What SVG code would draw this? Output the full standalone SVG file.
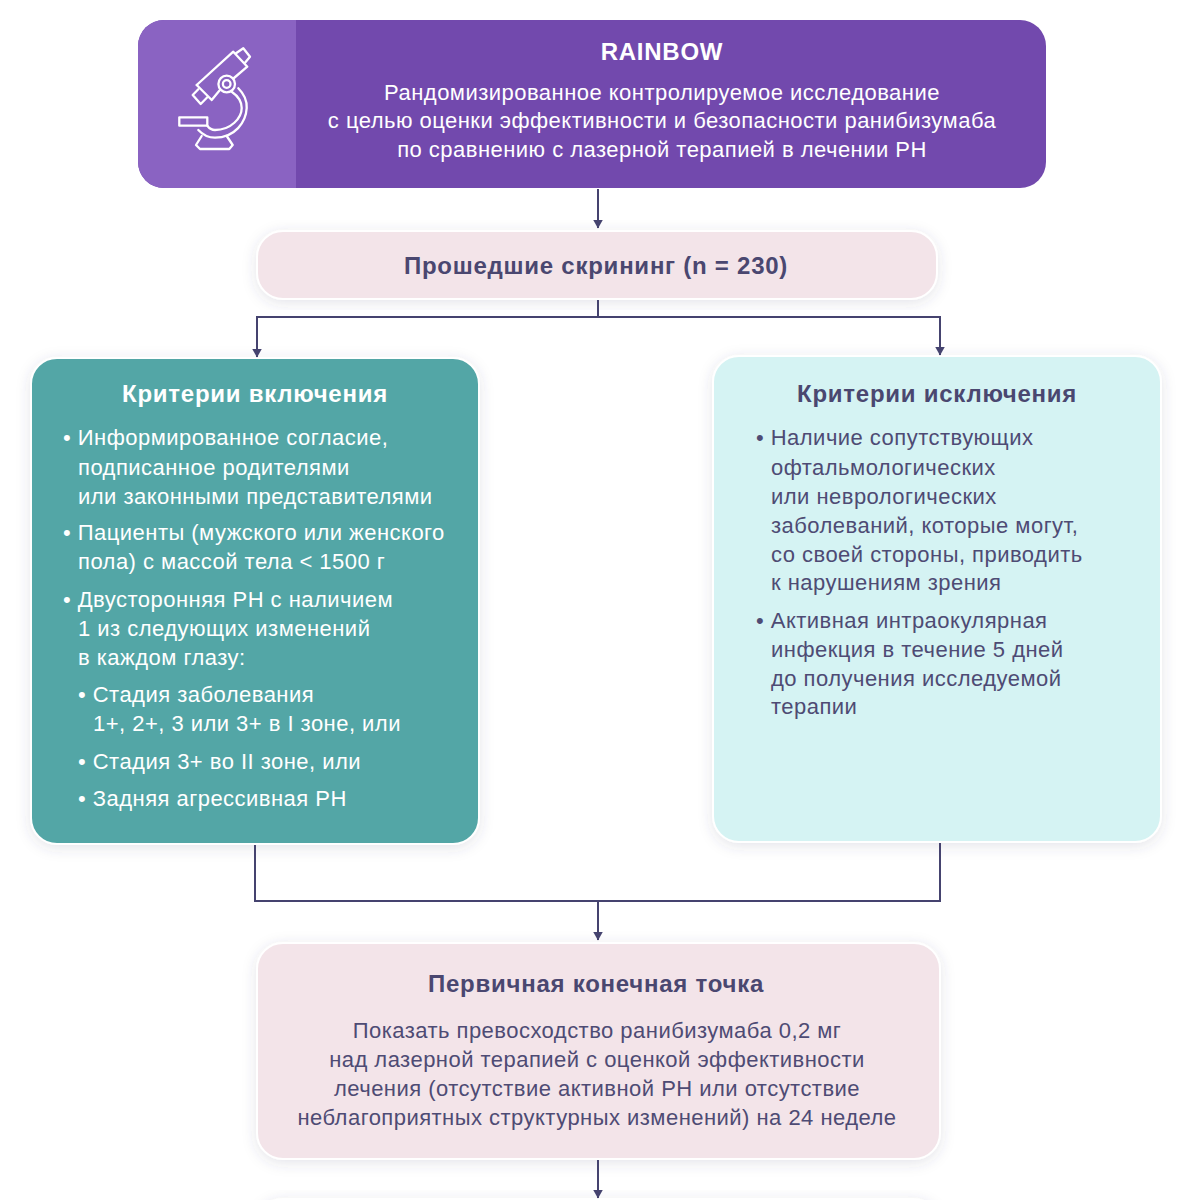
<svg xmlns="http://www.w3.org/2000/svg" width="1192" height="1200" viewBox="0 0 1192 1200">
<defs>
<filter id="sh" x="-10%" y="-15%" width="120%" height="130%"><feDropShadow dx="0" dy="3" stdDeviation="7" flood-color="#3d3a6b" flood-opacity="0.14"/></filter>
<marker id="arr" markerUnits="userSpaceOnUse" markerWidth="9" markerHeight="10" refX="8.500" refY="5" orient="auto" viewBox="0 0 9 10"><path d="M0 0L9 5L0 10Z" fill="#45436f"/></marker>
<clipPath id="hc"><rect x="138" y="20" width="908" height="168" rx="26"/></clipPath>
</defs>
<style>
text{font-family:"Liberation Sans",Arial,sans-serif;font-size:22px;fill:#4e4b74;letter-spacing:.47px}
.c{text-anchor:middle}
.b{font-weight:700;font-size:24px;letter-spacing:.75px}
.w{fill:#fff}
.d{fill:#4a4770}
.box{stroke:#fff;stroke-width:2;filter:url(#sh)}
.ln{fill:none;stroke:#45436f;stroke-width:2}
.ic{fill:none;stroke:#fff;stroke-width:2.300;stroke-linejoin:round;stroke-linecap:round}
</style>
<g id="next-node"><rect class="box" x="257" y="1199" width="682" height="60" rx="26" fill="#f3e4e9"/></g>
<g id="header">
<rect x="138" y="20" width="908" height="168" rx="26" fill="#7249ad"/>
<rect x="138" y="20" width="158" height="168" fill="#8a63c2" clip-path="url(#hc)"/>
<g class="ic">
<path d="M196.700 85L233.300 51.700L247.300 66.700L234 78"/>
<path d="M219.500 90.500L211.700 100L196.700 85"/>
<path d="M236 53.300L243.300 48.300L250 56.700L245 62.700"/>
<path d="M198.300 89.300L192.700 95L200.700 104L207.300 97.300"/>
<circle cx="226.700" cy="84" r="8.300"/><circle cx="226.700" cy="84" r="3.800"/>
<path d="M238.300 88.300C245 95 247 102 246.700 108C246 122 235 137.700 215 137.700C208 137.700 203 135 198.300 130"/>
<path d="M231.700 91.700C238 96 241.700 102 241.700 108C241.700 118 231 130 215 130C212 130 209 128 207.300 125.700"/>
<path d="M179.300 117.300H207.300V125.700H179.300Z"/>
<path d="M201.700 136L196 145L200 149H229.300L232.700 145L226.700 136"/>
</g>
<text class="c w b" x="662" y="60">RAINBOW</text>
<text class="c w" x="662" y="100">Рандомизированное контролируемое исследование</text>
<text class="c w" x="662" y="128">с целью оценки эффективности и безопасности ранибизумаба</text>
<text class="c w" x="662" y="157">по сравнению с лазерной терапией в лечении РН</text>
</g>
<g id="screening">
<rect class="box" x="257" y="231" width="680" height="68" rx="26" fill="#f3e4e9"/>
<text class="c b d" x="596" y="274">Прошедшие скрининг (n = 230)</text>
</g>
<g id="inclusion">
<rect class="box" x="31" y="358" width="448" height="486" rx="26" fill="#53a6a6"/>
<text class="c b w" x="255" y="402">Критерии включения</text>
<text class="w" x="63" y="445">• Информированное согласие,</text>
<text class="w" x="78" y="475">подписанное родителями</text>
<text class="w" x="78" y="504">или законными представителями</text>
<text class="w" x="63" y="540">• Пациенты (мужского или женского</text>
<text class="w" x="78" y="569">пола) с массой тела &lt; 1500 г</text>
<text class="w" x="63" y="607">• Двусторонняя РН с наличием</text>
<text class="w" x="78" y="636">1 из следующих изменений</text>
<text class="w" x="78" y="665">в каждом глазу:</text>
<text class="w" x="78" y="702">• Стадия заболевания</text>
<text class="w" x="93" y="731">1+, 2+, 3 или 3+ в I зоне, или</text>
<text class="w" x="78" y="769">• Стадия 3+ во II зоне, или</text>
<text class="w" x="78" y="806">• Задняя агрессивная РН</text>
</g>
<g id="exclusion">
<rect class="box" x="713" y="356" width="448" height="486" rx="26" fill="#d5f3f3"/>
<text class="c b d" x="937" y="402">Критерии исключения</text>
<text x="756" y="445">• Наличие сопутствующих</text>
<text x="771" y="475">офтальмологических</text>
<text x="771" y="504">или неврологических</text>
<text x="771" y="533">заболеваний, которые могут,</text>
<text x="771" y="562">со своей стороны, приводить</text>
<text x="771" y="590">к нарушениям зрения</text>
<text x="756" y="628">• Активная интраокулярная</text>
<text x="771" y="657">инфекция в течение 5 дней</text>
<text x="771" y="686">до получения исследуемой</text>
<text x="771" y="714">терапии</text>
</g>
<g id="endpoint">
<rect class="box" x="257" y="943" width="683" height="216" rx="26" fill="#f3e4e9"/>
<text class="c b d" x="596" y="992">Первичная конечная точка</text>
<text class="c" x="597" y="1038">Показать превосходство ранибизумаба 0,2 мг</text>
<text class="c" x="597" y="1067">над лазерной терапией с оценкой эффективности</text>
<text class="c" x="597" y="1096">лечения (отсутствие активной РН или отсутствие</text>
<text class="c" x="597" y="1125">неблагоприятных структурных изменений) на 24 неделе</text>
</g>
<g id="connectors">
<path class="ln" d="M598 189V228" marker-end="url(#arr)"/>
<path class="ln" d="M598 300V317"/>
<path class="ln" d="M598 317H940V355" marker-end="url(#arr)"/>
<path class="ln" d="M598 317H257V357" marker-end="url(#arr)"/>
<path class="ln" d="M255 845V901H940V843"/>
<path class="ln" d="M598 901V940" marker-end="url(#arr)"/>
<path class="ln" d="M598 1160V1198" marker-end="url(#arr)"/>
</g>
</svg>
